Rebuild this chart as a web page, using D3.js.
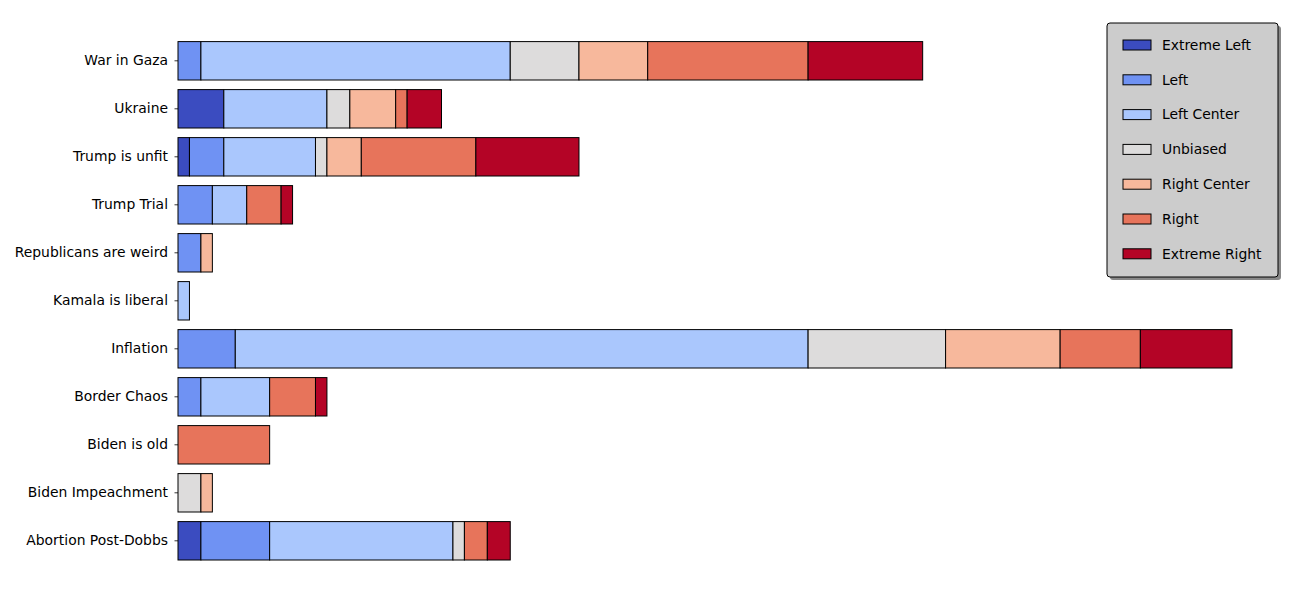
<!DOCTYPE html>
<html>
<head>
<meta charset="utf-8">
<script src="https://cdn.jsdelivr.net/npm/d3@7"></script>
<style>
  body { margin: 0; background: #fff; }
  text { font-family: "DejaVu Sans", sans-serif; }
</style>
</head>
<body>
<div id="chart"></div>
<script>
// categories top to bottom
const topics = ['War in Gaza', 'Ukraine', 'Trump is unfit', 'Trump Trial', 'Republicans are weird',
  'Kamala is liberal', 'Inflation', 'Border Chaos', 'Biden is old', 'Biden Impeachment', 'Abortion Post-Dobbs'];
const biasLabels = ['Extreme Left', 'Left', 'Left Center', 'Unbiased', 'Right Center', 'Right', 'Extreme Right'];
const biasColors = ['#3b4cc0', '#6f92f3', '#aac7fd', '#dddcdc', '#f7b89c', '#e7745b', '#b40426'];

// article counts per bias, same order as topics
const extremeLeft = [0, 4, 1, 0, 0, 0, 0, 0, 0, 0, 2];
const left        = [2, 0, 3, 3, 2, 0, 5, 2, 0, 0, 6];
const leftCenter  = [27, 9, 8, 3, 0, 1, 50, 6, 0, 0, 16];
const unbiased    = [6, 2, 1, 0, 0, 0, 12, 0, 0, 2, 1];
const rightCenter = [6, 4, 3, 0, 1, 0, 10, 0, 0, 1, 0];
const right       = [14, 1, 10, 3, 0, 0, 7, 4, 8, 0, 2];
const extremeRight = [10, 3, 9, 1, 0, 0, 8, 1, 0, 0, 2];

const series = [extremeLeft, left, leftCenter, unbiased, rightCenter, right, extremeRight];

const rows = topics.map((t, i) => {
    const r = { topic: t };
    biasLabels.forEach((b, j) => r[b] = series[j][i]);
    return r;
});

const width = 1300, height = 600;
const svg = d3.select('#chart').append('svg')
    .attr('width', width)
    .attr('height', height);

const x = d3.scaleLinear().domain([0, 92]).range([178, 1232]);
const y = d3.scaleBand().domain(topics).range([32, 569.6]).paddingInner(0.2).paddingOuter(0.2);
const color = d3.scaleOrdinal().domain(biasLabels).range(biasColors);

const stacked = d3.stack().keys(biasLabels)(rows);

svg.append('g')
  .selectAll('g')
  .data(stacked)
  .join('g')
    .attr('fill', d => color(d.key))
  .selectAll('rect')
  .data(d => d.filter(s => s[1] - s[0] > 0))
  .join('rect')
    .attr('x', d => x(d[0]))
    .attr('y', d => y(d.data.topic))
    .attr('width', d => x(d[1]) - x(d[0]))
    .attr('height', y.bandwidth())
    .attr('stroke', '#000')
    .attr('stroke-width', 1);

// y axis: ticks and labels only
const yAxis = d3.axisLeft(y).tickSize(3.5).tickPadding(6.5);
const yAxisG = svg.append('g')
    .attr('transform', `translate(${x(0)},0)`)
    .call(yAxis);
yAxisG.select('.domain').remove();
yAxisG.selectAll('text')
    .style('font-size', '13.9px')
    .attr('fill', '#000');
yAxisG.selectAll('line').attr('stroke', '#000').attr('stroke-width', 0.8);

// legend
const lg = svg.append('g').attr('transform', 'translate(1107,23)');
lg.append('rect')
    .attr('x', 3).attr('y', 3)
    .attr('width', 171).attr('height', 254)
    .attr('rx', 3)
    .attr('fill', '#888');
lg.append('rect')
    .attr('width', 171).attr('height', 254)
    .attr('rx', 3)
    .attr('fill', '#cccccc')
    .attr('stroke', '#000')
    .attr('stroke-width', 1);

const item = lg.selectAll('.item')
    .data(biasLabels)
    .join('g')
    .attr('class', 'item')
    .attr('transform', (d, i) => `translate(0,${22 + i * 34.8})`);
item.append('rect')
    .attr('x', 16).attr('y', -5)
    .attr('width', 28).attr('height', 10)
    .attr('fill', d => color(d))
    .attr('stroke', '#000')
    .attr('stroke-width', 1);
item.append('text')
    .attr('x', 55)
    .attr('dy', '0.35em')
    .style('font-size', '13.9px')
    .text(d => d);
</script>
</body>
</html>
